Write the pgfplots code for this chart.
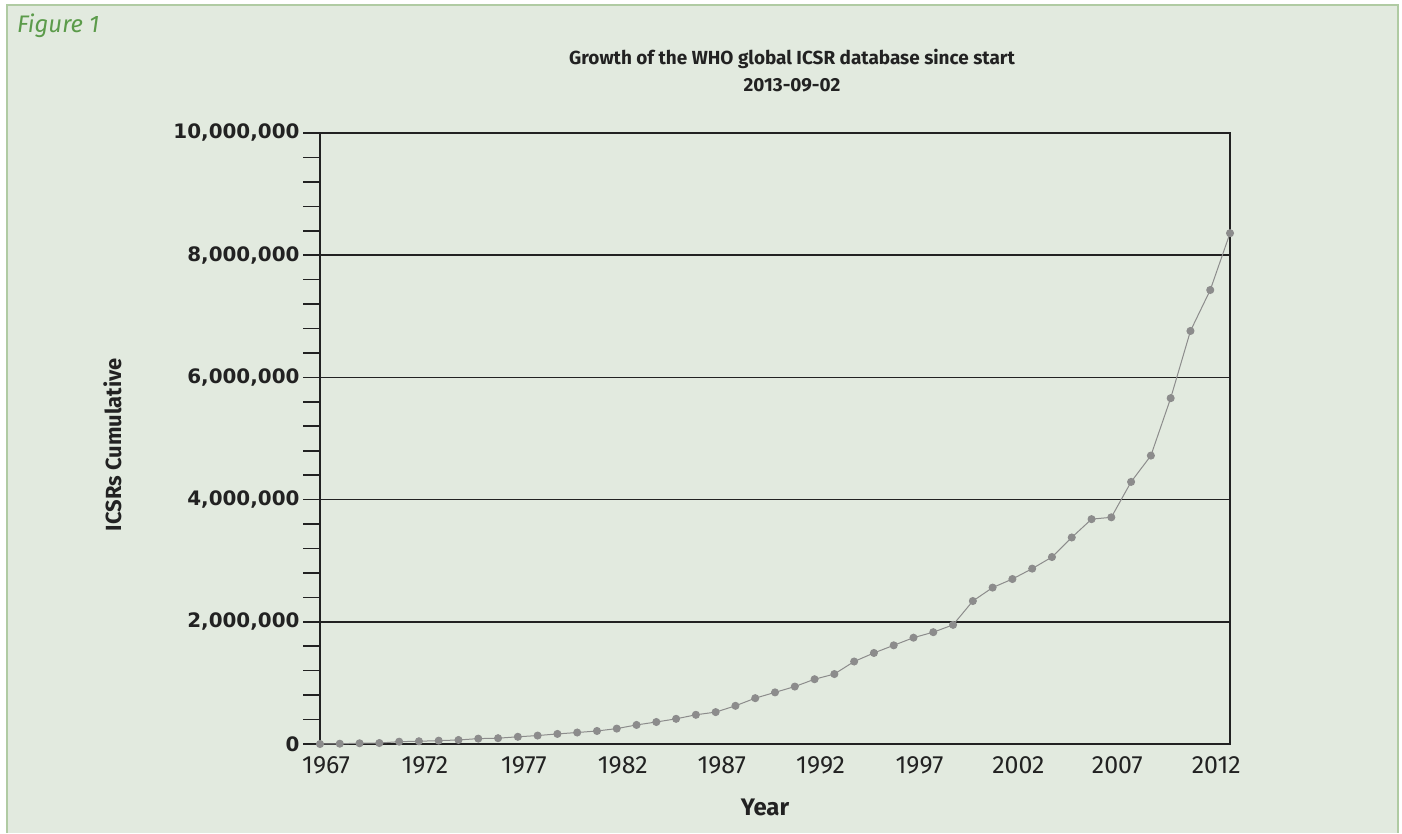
\documentclass[border=0pt]{standalone}
\usepackage{pgfplots}
\pgfplotsset{compat=1.18}
\usepackage{pgfplotstable}
\usepackage{fontspec}
\setmainfont{Fira Sans}
\newfontfamily\dvs{DejaVu Sans}
\IfFontExistsTF{FiraSans-Medium.otf}{\newfontfamily\firamed{FiraSans-Medium.otf}}{\newcommand\firamed{\bfseries}}
\IfFontExistsTF{FiraSans-LightItalic.otf}{\newfontfamily\firali{FiraSans-LightItalic.otf}}{\newcommand\firali{\itshape}}
\definecolor{bg}{HTML}{E2EADF}
\definecolor{framec}{HTML}{B0CBA3}
\definecolor{figgreen}{HTML}{5B9B4A}
\definecolor{dark}{HTML}{222222}
\definecolor{dat}{HTML}{8C8C8C}
\pgfplotstableread{
year value
1967 0
1968 5000
1969 12000
1970 16000
1971 38000
1972 45000
1973 55000
1974 66000
1975 88000
1976 95000
1977 118000
1978 138000
1979 165000
1980 188000
1981 213000
1982 252000
1983 312000
1984 360000
1985 412000
1986 478000
1987 522000
1988 625000
1989 750000
1990 845000
1991 940000
1992 1060000
1993 1145000
1994 1350000
1995 1490000
1996 1615000
1997 1740000
1998 1830000
1999 1950000
2000 2340000
2001 2560000
2002 2700000
2003 2870000
2004 3060000
2005 3380000
2006 3680000
2007 3710000
2008 4290000
2009 4720000
2010 5660000
2011 6760000
2012 7430000
2013 8360000
}\datatable
\begin{document}
\begin{tikzpicture}[x=1bp,y=1bp]
\useasboundingbox (0,0) rectangle (1402,833);
\fill[white] (0,0) rectangle (1402,833);
\fill[bg] (7,0) rectangle (1398,828);
\draw[framec, line width=2bp] (7,0)--(7,828)--(1398,828)--(1398,0);
\node[anchor=base west, font=\firali\fontsize{24}{28}\selectfont, text=figgreen, inner sep=0] at (17,800) {Figure 1};
\node[anchor=base, font=\firamed\fontsize{19}{23}\selectfont, text=dark, inner sep=0] at (792,768) {Growth of the WHO global ICSR database since start};
\node[anchor=base, font=\firamed\fontsize{19}{23}\selectfont, text=dark, inner sep=0] at (792,741) {2013-09-02};
\node[anchor=base, font=\firamed\fontsize{24}{28}\selectfont, text=dark, inner sep=0] at (765,18) {Year};
\node[rotate=90, anchor=center, font=\firamed\fontsize{22}{26}\selectfont, text=dark, inner sep=0] at (112.5,388) {ICSRs Cumulative};
\begin{axis}[
  at={(320bp,89bp)}, anchor=south west,
  scale only axis, width=910bp, height=611bp,
  xmin=1967, xmax=2013, ymin=0, ymax=10000000,
  clip=false,
  axis line style={dark, line width=2bp},
  xtick={1967,1972,1977,1982,1987,1992,1997,2002,2007,2012},
  xticklabels={1967,1972,1977,1982,1987,1992,1997,2002,2007,2012},
  xtick pos=bottom, ytick pos=left,
  xtick style={draw=none},
  tick align=outside,
  major tick length=17bp, minor tick length=17bp,
  ytick={0,2000000,4000000,6000000,8000000,10000000},
  minor y tick num=4,
  ytick style={dark, line width=1.6bp},
  ymajorgrids,
  major grid style={dark, line width=1.6bp},
  scaled y ticks=false,
  xticklabel style={font=\fontsize{25}{29}\selectfont, text=dark, anchor=base, xshift=6bp, yshift=-13bp},
  yticklabel style={font=\dvs\bfseries\fontsize{20}{24}\selectfont, text=dark,
    /pgf/number format/fixed, /pgf/number format/1000 sep={,},
    /pgf/number format/assume math mode=true},
]
\addplot[color=dat, line width=1bp, mark=*, mark size=3.5bp, mark options={fill=dat, draw=dat}] table[x=year, y=value] {\datatable};
\end{axis}
\end{tikzpicture}
\end{document}
